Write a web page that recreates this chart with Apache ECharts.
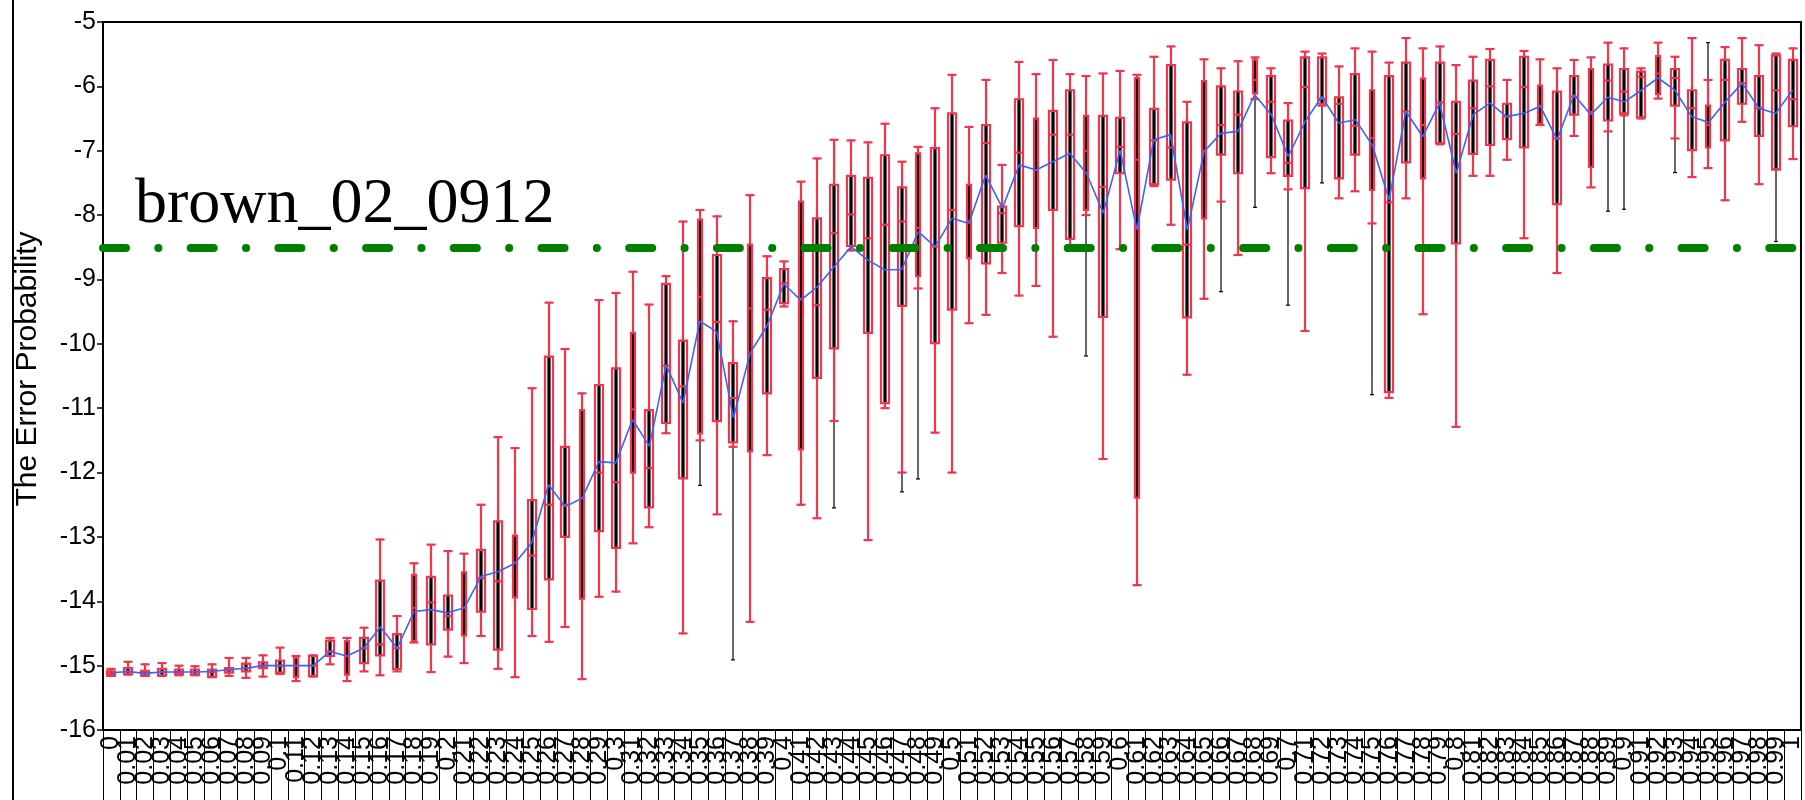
<!DOCTYPE html>
<html><head><meta charset="utf-8">
<script src="https://cdn.jsdelivr.net/npm/echarts@6/dist/echarts.min.js"></script>
<style>html,body{margin:0;padding:0;background:#fff}#c{width:1805px;height:800px}</style>
</head><body><div id="c"></div>
<script>
// ---------- data ----------
const categories = ['0','0.01','0.02','0.03','0.04','0.05','0.06','0.07','0.08','0.09',
'0.1','0.11','0.12','0.13','0.14','0.15','0.16','0.17','0.18','0.19',
'0.2','0.21','0.22','0.23','0.24','0.25','0.26','0.27','0.28','0.29',
'0.3','0.31','0.32','0.33','0.34','0.35','0.36','0.37','0.38','0.39',
'0.4','0.41','0.42','0.43','0.44','0.45','0.46','0.47','0.48','0.49',
'0.5','0.51','0.52','0.53','0.54','0.55','0.56','0.57','0.58','0.59',
'0.6','0.61','0.62','0.63','0.64','0.65','0.66','0.67','0.68','0.69',
'0.7','0.71','0.72','0.73','0.74','0.75','0.76','0.77','0.78','0.79',
'0.8','0.81','0.82','0.83','0.84','0.85','0.86','0.87','0.88','0.89',
'0.9','0.91','0.92','0.93','0.94','0.95','0.96','0.97','0.98','0.99','1'];

// red boxplot: [low whisker, Q1, median, Q3, high whisker]
const redBox = [
[-15.16,-15.15,-15.12,-15.09,-15.05],[-15.14,-15.13,-15.09,-15.04,-14.94],[-15.16,-15.15,-15.12,-15.08,-14.98],
[-15.16,-15.15,-15.10,-15.05,-14.96],[-15.15,-15.13,-15.10,-15.06,-15.00],[-15.15,-15.14,-15.10,-15.06,-15.01],
[-15.18,-15.17,-15.10,-15.06,-14.98],[-15.16,-15.11,-15.07,-15.04,-14.88],[-15.19,-15.09,-15.04,-14.97,-14.88],
[-15.17,-15.04,-15.00,-14.95,-14.84],[-15.13,-15.11,-15.00,-14.92,-14.72],[-15.24,-15.18,-15.00,-14.88,-14.85],
[-15.17,-15.16,-15.00,-14.85,-14.84],[-14.98,-14.85,-14.78,-14.61,-14.57],[-15.24,-15.14,-14.85,-14.62,-14.57],
[-15.09,-14.96,-14.73,-14.57,-14.41],[-15.15,-14.84,-14.67,-13.68,-13.04],[-15.09,-15.05,-14.73,-14.51,-14.23],
[-14.64,-14.62,-14.10,-13.59,-13.41],[-15.10,-14.67,-14.02,-13.62,-13.12],[-14.86,-14.44,-14.23,-13.91,-13.22],
[-14.96,-14.53,-14.10,-13.55,-13.26],[-14.54,-14.16,-13.64,-13.20,-12.50],[-15.05,-14.75,-13.69,-12.76,-11.45],
[-15.18,-13.94,-13.40,-12.98,-11.62],[-14.54,-14.12,-13.29,-12.43,-10.69],[-14.63,-13.66,-12.50,-10.20,-9.36],
[-14.40,-13.00,-12.50,-11.60,-10.08],[-15.21,-13.96,-12.40,-11.03,-10.77],[-13.93,-12.91,-12.00,-10.64,-9.32],
[-13.85,-13.17,-12.15,-10.38,-9.21],[-13.10,-12.00,-11.02,-9.83,-8.88],[-12.85,-12.54,-11.93,-11.03,-9.39],
[-11.39,-11.23,-10.34,-9.07,-8.95],[-14.50,-12.09,-10.66,-9.95,-8.10],[-11.50,-11.39,-9.27,-8.07,-7.92],
[-12.65,-11.20,-9.66,-8.62,-8.02],[-11.60,-11.53,-10.84,-10.30,-9.65],[-14.32,-11.67,-9.45,-8.46,-7.69],
[-11.73,-10.77,-9.47,-8.98,-8.64],[-9.42,-9.37,-9.06,-8.84,-8.72],[-12.50,-11.64,-9.30,-7.79,-7.48],
[-12.71,-10.53,-9.40,-8.05,-7.12],[-11.20,-10.07,-8.28,-7.53,-6.83],[-8.55,-8.48,-7.99,-7.39,-6.84],
[-13.05,-9.83,-8.36,-7.42,-6.87],[-11.00,-10.92,-8.15,-7.07,-6.58],[-12.00,-9.41,-8.10,-7.57,-7.17],
[-9.14,-8.95,-8.20,-7.04,-6.94],[-11.38,-9.99,-8.49,-6.96,-6.34],[-12.00,-9.47,-7.92,-6.42,-5.82],
[-9.68,-8.67,-8.10,-7.53,-6.63],[-9.55,-8.75,-6.88,-6.60,-5.90],[-8.90,-8.43,-7.97,-7.87,-7.22],
[-9.25,-8.17,-7.03,-6.20,-5.62],[-9.10,-8.20,-7.30,-6.50,-5.81],[-9.89,-7.92,-6.75,-6.38,-5.59],
[-8.55,-8.37,-6.75,-6.06,-5.81],[-8.00,-7.92,-7.00,-6.46,-5.84],[-11.79,-9.58,-7.56,-6.46,-5.80],
[-8.53,-7.35,-6.94,-6.49,-5.76],[-13.75,-12.39,-7.14,-5.87,-5.82],[-7.55,-7.52,-6.84,-6.35,-5.54],
[-8.15,-7.45,-6.95,-5.67,-5.38],[-10.48,-9.59,-8.46,-6.56,-6.24],[-9.30,-8.05,-7.00,-5.92,-5.58],
[-7.79,-7.06,-6.60,-6.00,-5.72],[-8.62,-7.35,-6.44,-6.08,-5.61],[-6.20,-6.11,-5.90,-5.59,-5.55],
[-7.35,-7.10,-6.24,-5.84,-5.72],[-7.60,-7.39,-7.19,-6.53,-6.26],[-9.80,-7.58,-6.01,-5.55,-5.46],
[-6.30,-6.27,-6.19,-5.55,-5.49],[-7.74,-7.43,-6.27,-6.17,-5.69],[-7.63,-7.06,-6.61,-5.81,-5.41],
[-8.13,-7.61,-6.80,-6.06,-5.46],[-10.84,-10.75,-7.80,-5.84,-5.63],[-7.74,-7.18,-6.39,-5.63,-5.25],
[-9.54,-7.43,-6.60,-5.88,-5.41],[-6.90,-6.88,-6.25,-5.63,-5.38],[-11.29,-8.44,-6.74,-6.24,-5.67],
[-7.39,-7.05,-6.34,-5.91,-5.54],[-7.39,-6.91,-6.00,-5.59,-5.42],[-7.14,-6.82,-6.47,-6.27,-5.90],
[-8.36,-6.95,-6.01,-5.54,-5.45],[-6.60,-6.58,-6.30,-5.99,-5.58],[-8.90,-7.83,-6.81,-6.08,-5.72],
[-6.77,-6.44,-6.16,-5.84,-5.59],[-7.57,-7.25,-6.40,-5.73,-5.55],[-6.70,-6.53,-5.91,-5.66,-5.32],
[-6.45,-6.42,-6.08,-5.73,-5.41],[-6.50,-6.48,-5.85,-5.77,-5.72],[-6.19,-6.12,-5.80,-5.53,-5.32],
[-6.81,-6.30,-5.87,-5.73,-5.54],[-7.41,-6.99,-6.34,-6.06,-5.25],[-7.27,-6.95,-6.60,-6.30,-5.90],
[-7.77,-6.84,-5.90,-5.59,-5.39],[-6.55,-6.27,-5.95,-5.73,-5.25],[-7.52,-6.77,-6.34,-5.84,-5.36],
[-7.29,-7.29,-6.06,-5.52,-5.49],[-7.13,-6.62,-6.20,-5.59,-5.41]
];

// black boxplot: [low whisker, Q1, median, Q3, high whisker]
const blackBox = [
[-15.16,-15.15,-15.12,-15.09,-15.05],[-15.14,-15.13,-15.09,-15.04,-14.94],[-15.16,-15.15,-15.12,-15.08,-14.98],
[-15.16,-15.15,-15.10,-15.05,-14.96],[-15.15,-15.13,-15.10,-15.06,-15.00],[-15.15,-15.14,-15.10,-15.06,-15.01],
[-15.18,-15.17,-15.10,-15.06,-14.98],[-15.16,-15.11,-15.07,-15.04,-14.88],[-15.19,-15.09,-15.04,-14.97,-14.88],
[-15.17,-15.04,-15.00,-14.95,-14.84],[-15.13,-15.11,-15.00,-14.92,-14.72],[-15.24,-15.18,-15.00,-14.88,-14.85],
[-15.17,-15.16,-15.00,-14.85,-14.84],[-14.98,-14.85,-14.78,-14.61,-14.57],[-15.24,-15.14,-14.85,-14.62,-14.57],
[-15.09,-14.96,-14.73,-14.57,-14.41],[-15.15,-14.84,-14.67,-13.68,-13.04],[-15.09,-15.05,-14.73,-14.51,-14.23],
[-14.64,-14.62,-14.10,-13.59,-13.41],[-15.10,-14.67,-14.02,-13.62,-13.12],[-14.86,-14.44,-14.23,-13.91,-13.22],
[-14.96,-14.53,-14.10,-13.55,-13.26],[-14.54,-14.16,-13.64,-13.20,-12.50],[-15.05,-14.75,-13.69,-12.76,-11.45],
[-15.18,-13.94,-13.40,-12.98,-11.62],[-14.54,-14.12,-13.29,-12.43,-10.69],[-14.63,-13.66,-12.50,-10.20,-9.36],
[-14.40,-13.00,-12.50,-11.60,-10.08],[-15.21,-13.96,-12.40,-11.03,-10.77],[-13.93,-12.91,-12.00,-10.64,-9.32],
[-13.85,-13.17,-12.15,-10.38,-9.21],[-13.10,-12.00,-11.02,-9.83,-8.88],[-12.85,-12.54,-11.93,-11.03,-9.39],
[-11.39,-11.23,-10.34,-9.07,-8.95],[-14.50,-12.09,-10.66,-9.95,-8.10],[-12.20,-11.39,-9.27,-8.07,-7.92],
[-12.65,-11.20,-9.66,-8.62,-8.02],[-14.91,-11.53,-10.84,-10.30,-9.65],[-14.32,-11.67,-9.45,-8.46,-7.69],
[-11.73,-10.77,-9.47,-8.98,-8.64],[-9.42,-9.37,-9.06,-8.84,-8.72],[-12.50,-11.64,-9.30,-7.79,-7.48],
[-12.71,-10.53,-9.40,-8.05,-7.12],[-12.55,-10.07,-8.28,-7.53,-6.83],[-8.55,-8.48,-7.99,-7.39,-6.84],
[-13.05,-9.83,-8.36,-7.42,-6.87],[-11.00,-10.92,-8.15,-7.07,-6.58],[-12.30,-9.41,-8.10,-7.57,-7.17],
[-12.10,-8.95,-8.20,-7.04,-6.94],[-11.38,-9.99,-8.49,-6.96,-6.34],[-12.00,-9.47,-7.92,-6.42,-5.82],
[-9.68,-8.67,-8.10,-7.53,-6.63],[-9.55,-8.75,-6.88,-6.60,-5.90],[-8.90,-8.43,-7.97,-7.87,-7.22],
[-9.25,-8.17,-7.03,-6.20,-5.62],[-9.10,-8.20,-7.30,-6.50,-5.81],[-9.89,-7.92,-6.75,-6.38,-5.59],
[-8.55,-8.37,-6.75,-6.06,-5.81],[-10.19,-7.92,-7.00,-6.46,-5.84],[-11.79,-9.58,-7.56,-6.46,-5.80],
[-8.53,-7.35,-6.94,-6.49,-5.76],[-13.75,-12.39,-7.14,-5.87,-5.82],[-7.55,-7.52,-6.84,-6.35,-5.54],
[-8.15,-7.45,-6.95,-5.67,-5.38],[-10.48,-9.59,-8.46,-6.56,-6.24],[-9.30,-8.05,-7.00,-5.92,-5.58],
[-9.19,-7.06,-6.60,-6.00,-5.72],[-8.62,-7.35,-6.44,-6.08,-5.61],[-7.88,-6.11,-5.90,-5.59,-5.55],
[-7.35,-7.10,-6.24,-5.84,-5.72],[-9.40,-7.39,-7.19,-6.53,-6.26],[-9.80,-7.58,-6.01,-5.55,-5.46],
[-7.50,-6.27,-6.19,-5.55,-5.49],[-7.74,-7.43,-6.27,-6.17,-5.69],[-7.63,-7.06,-6.61,-5.81,-5.41],
[-10.79,-7.61,-6.80,-6.06,-5.46],[-10.84,-10.75,-7.80,-5.84,-5.63],[-7.74,-7.18,-6.39,-5.63,-5.25],
[-9.54,-7.43,-6.60,-5.88,-5.41],[-6.90,-6.88,-6.25,-5.63,-5.38],[-11.29,-8.44,-6.74,-6.24,-5.67],
[-7.39,-7.05,-6.34,-5.91,-5.54],[-7.39,-6.91,-6.00,-5.59,-5.42],[-7.14,-6.82,-6.47,-6.27,-5.90],
[-8.36,-6.95,-6.01,-5.54,-5.45],[-6.60,-6.58,-6.30,-5.99,-5.58],[-8.90,-7.83,-6.81,-6.08,-5.72],
[-6.77,-6.44,-6.16,-5.84,-5.59],[-7.57,-7.25,-6.40,-5.73,-5.55],[-7.94,-6.53,-5.91,-5.66,-5.32],
[-7.91,-6.42,-6.08,-5.73,-5.41],[-6.50,-6.48,-5.85,-5.77,-5.72],[-6.19,-6.12,-5.80,-5.53,-5.32],
[-7.34,-6.30,-5.87,-5.73,-5.54],[-7.41,-6.99,-6.34,-6.06,-5.25],[-7.27,-6.95,-6.60,-6.30,-5.32],
[-7.77,-6.84,-5.90,-5.59,-5.39],[-6.55,-6.27,-5.95,-5.73,-5.25],[-7.52,-6.77,-6.34,-5.84,-5.36],
[-8.41,-7.29,-6.06,-5.52,-5.49],[-7.13,-6.62,-6.20,-5.59,-5.41]
];

// blue line (group centre)
const meanLine = [-15.11,-15.09,-15.12,-15.10,-15.10,-15.10,-15.09,-15.06,-15.04,-15.00,
-15.00,-15.00,-15.00,-14.78,-14.85,-14.73,-14.40,-14.73,-14.16,-14.13,
-14.18,-14.10,-13.61,-13.54,-13.41,-13.09,-12.19,-12.53,-12.40,-11.83,
-11.85,-11.18,-11.59,-10.33,-10.92,-9.65,-9.81,-11.15,-10.14,-9.72,
-9.07,-9.32,-9.11,-8.80,-8.49,-8.70,-8.85,-8.85,-8.26,-8.49,
-8.05,-8.13,-7.38,-7.89,-7.22,-7.30,-7.17,-7.04,-7.35,-7.97,
-6.99,-8.23,-6.83,-6.75,-8.23,-7.01,-6.73,-6.70,-6.13,-6.44,
-7.09,-6.55,-6.16,-6.57,-6.52,-6.91,-7.76,-6.39,-6.78,-6.26,
-7.35,-6.44,-6.26,-6.47,-6.42,-6.31,-6.83,-6.13,-6.44,-6.17,
-6.24,-6.06,-5.87,-6.06,-6.47,-6.56,-6.24,-5.95,-6.34,-6.42,-6.06];

const yMin = -16, yMax = -5, yStep = 1;
const referenceValue = -8.5;
const referenceLabel = 'brown_02_0912';
const yTitle = 'The Error Probability';

// ---------- style config ----------
const RED = '#f0364c', BLACK = '#000000', BLUE = '#3366ff', GREEN = '#008000';
const NARROW = new Set([11,14,18,21,24,28,31,35,38,41,48,51,55,58,61,65,68,75,78,85,88,92,95]);

function boxSeries(src, cfg) {
  return {
    type: 'custom',
    silent: true,
    clip: false,
    z: cfg.z,
    data: src.map((b, i) => [i, b[0], b[1], b[2], b[3], b[4]]),
    encode: { x: 0, y: [1, 2, 3, 4, 5] },
    renderItem: function (params, api) {
      const i = api.value(0);
      const p = [1, 2, 3, 4, 5].map(d => api.coord([i, api.value(d)]));
      const cx = Math.round(p[0][0]);
      const w = cfg.width(params.dataIndex);
      const hw = w / 2;
      const cw = cfg.cap(params.dataIndex) / 2;
      const st = { stroke: cfg.stroke, lineWidth: cfg.lw, fill: null };
      return {
        type: 'group',
        children: [
          { type: 'line', shape: { x1: cx, y1: p[4][1], x2: cx, y2: p[3][1] }, style: st },
          { type: 'line', shape: { x1: cx, y1: p[1][1], x2: cx, y2: p[0][1] }, style: st },
          { type: 'line', shape: { x1: cx - cw, y1: p[4][1], x2: cx + cw, y2: p[4][1] }, style: st },
          { type: 'line', shape: { x1: cx - cw, y1: p[0][1], x2: cx + cw, y2: p[0][1] }, style: st },
          { type: 'rect', shape: { x: cx - hw, y: p[3][1], width: w, height: p[1][1] - p[3][1] },
            style: { stroke: cfg.stroke, lineWidth: cfg.lw, fill: cfg.fill } },
          { type: 'line', shape: { x1: cx - hw, y1: p[2][1], x2: cx + hw, y2: p[2][1] }, style: st }
        ]
      };
    }
  };
}

const chart = echarts.init(document.getElementById('c'), null, { renderer: 'canvas' });
chart.setOption({
  animation: false,
  backgroundColor: '#ffffff',
  grid: { left: 103, top: 22, width: 1707, height: 708, show: true, borderColor: '#000', borderWidth: 2, backgroundColor: 'transparent' },
  xAxis: {
    type: 'category',
    data: categories,
    boundaryGap: true,
    axisLine: { lineStyle: { color: '#000', width: 2 } },
    axisTick: { show: true, interval: 0, length: 80, lineStyle: { color: '#000', width: 1 } },
    axisLabel: { interval: 0, rotate: 90, margin: 6, fontSize: 25, color: '#000', fontFamily: 'Liberation Sans' },
    splitLine: { show: false }
  },
  yAxis: {
    type: 'value',
    min: yMin, max: yMax, interval: yStep,
    axisLine: { show: true, lineStyle: { color: '#000', width: 2 } },
    axisTick: { show: true, length: 6, lineStyle: { color: '#000', width: 1.5 } },
    axisLabel: { margin: 7, fontSize: 25, color: '#000', fontFamily: 'Liberation Sans' },
    splitLine: { show: false }
  },
  graphic: [
    { type: 'line', shape: { x1: 13, y1: 0, x2: 13, y2: 800 }, style: { stroke: '#000', lineWidth: 2 } },
    { type: 'text', x: 28, y: 369, rotation: Math.PI / 2,
      style: { text: yTitle, font: '30px "Liberation Sans"', fill: '#000', align: 'center', verticalAlign: 'middle' } },
    { type: 'text', x: 135, y: 205, z: 100,
      style: { text: referenceLabel, font: '64px "Liberation Serif"', fill: '#000', align: 'left', verticalAlign: 'middle' } }
  ],
  series: [
    boxSeries(blackBox, { stroke: BLACK, fill: BLACK, lw: 1.2, z: 2,
      width: () => 2, cap: () => 4 }),
    boxSeries(redBox, { stroke: RED, fill: 'rgba(0,0,0,0)', lw: 2.2, z: 3,
      width: (i) => NARROW.has(i) ? 4 : 8, cap: () => 9 }),
    {
      type: 'line', data: meanLine, symbol: 'none', z: 4, silent: true,
      lineStyle: { color: BLUE, width: 1.6 },
      markLine: {
        silent: true, symbol: ['none', 'none'], label: { show: false },
        lineStyle: { color: GREEN, width: 8, type: [23, 32.3, 0.1, 32.3], cap: 'round' },
        emphasis: { disabled: true },
        data: [{ yAxis: referenceValue }]
      }
    }
  ]
});
</script></body></html>
